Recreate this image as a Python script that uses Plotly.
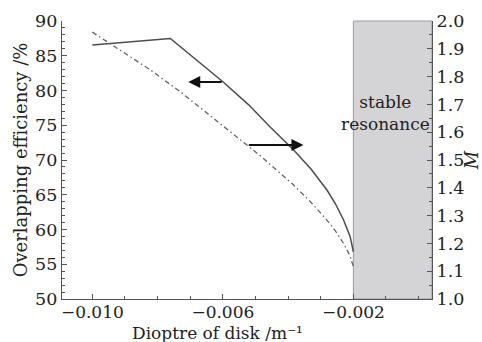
import plotly.graph_objects as go

# Solid curve: overlapping efficiency (%) vs dioptre (left axis)
eff_x = [-0.0100, -0.00761, -0.00599, -0.00520, -0.00455, -0.00383, -0.00330, -0.00281,
         -0.00255, -0.00230, -0.00210, -0.00200]
eff_y = [86.55, 87.48, 81.22, 77.9, 74.75, 71.44, 68.7, 65.68, 63.7, 61.37, 59.0, 56.8]

# Dash-dot curve: M vs dioptre (right axis)
m_x = [-0.0100, -0.00822, -0.00730, -0.00525, -0.00485, -0.00383, -0.00330, -0.00281,
       -0.00255, -0.00230, -0.00210, -0.00200]
m_y = [1.960, 1.824, 1.745, 1.554, 1.515, 1.410, 1.348, 1.284, 1.245, 1.200, 1.155, 1.116]

x_range = [-0.01093, 0.00041]
y_range = [50, 90]
y2_range = [1.0, 2.0]
stable_x0 = -0.002

FONT = "DejaVu Serif"
AX = "#555555"

fig = go.Figure()
fig.add_trace(go.Scatter(x=eff_x, y=eff_y, mode="lines",
                         line=dict(color="#4d4d4d", width=1.5),
                         yaxis="y", showlegend=False))
fig.add_trace(go.Scatter(x=m_x, y=m_y, mode="lines",
                         line=dict(color="#666666", width=1.3, dash="5px,3px,1.5px,3px"),
                         yaxis="y2", showlegend=False))

fig.add_shape(type="rect", xref="x", yref="paper", x0=stable_x0, x1=x_range[1], y0=0, y1=1,
              fillcolor="#d4d4d6", line=dict(color="#9a9a9a", width=1), layer="below")

fig.add_annotation(x=(stable_x0 + x_range[1]) / 2 - 0.00022, y=0.752, xref="x", yref="paper",
                   text="stable<br>resonance", showarrow=False,
                   font=dict(family=FONT, size=17, color="#222222"), align="center")

# x axis title (placed as annotation to sit below tick labels like the reference)
fig.add_annotation(x=0.419, y=-0.121, xref="paper", yref="paper", xanchor="center",
                   yanchor="middle", text="Dioptre of disk /m⁻¹", showarrow=False,
                   font=dict(family=FONT, size=17, color="#222222"))

# arrows
fig.add_annotation(x=-0.00706, y=81.22, ax=-0.00599, ay=81.22, xref="x", yref="y",
                   axref="x", ayref="y", text="", showarrow=True,
                   arrowhead=2, arrowsize=1.2, arrowwidth=2, arrowcolor="#111111")
fig.add_annotation(x=-0.00353, y=72.16, ax=-0.00525, ay=72.16, xref="x", yref="y",
                   axref="x", ayref="y", text="", showarrow=True,
                   arrowhead=2, arrowsize=1.2, arrowwidth=2, arrowcolor="#111111")

tickfont = dict(family=FONT, size=17.5, color="#222222")
titlefont = dict(family=FONT, size=18, color="#222222")

fig.update_layout(
    width=482, height=342,
    margin=dict(l=62, r=50, t=21, b=43),
    plot_bgcolor="white", paper_bgcolor="white",
    xaxis=dict(range=x_range, tick0=-0.010, dtick=0.004, tickformat=".3f", automargin=False,
               ticks="inside", ticklen=5, tickcolor=AX, showline=True, linecolor=AX,
               linewidth=1.2, showgrid=False, zeroline=False, ticklabelstandoff=-3,
               tickfont=dict(family=FONT, size=17, color="#222222"),
               minor=dict(tick0=-0.010, dtick=0.001, ticks="inside", ticklen=3,
                          tickcolor=AX, showgrid=False)),
    yaxis=dict(range=y_range, tick0=50, dtick=5, ticks="inside", ticklen=5, tickcolor=AX,
               automargin=False,
               showline=True, linecolor=AX, linewidth=1.2, showgrid=False, zeroline=False,
               tickfont=tickfont,
               title=dict(text="Overlapping efficiency /%", font=titlefont, standoff=2),
               minor=dict(dtick=1, ticks="inside", ticklen=3, tickcolor=AX, showgrid=False)),
    yaxis2=dict(range=y2_range, overlaying="y", side="right", tick0=1.0, dtick=0.1,
                automargin=False,
                tickformat=".1f", ticks="inside", ticklen=5, tickcolor=AX, showline=True,
                linecolor=AX, linewidth=1.2, showgrid=False, zeroline=False, tickfont=tickfont,
                title=dict(text="<i>M</i>", font=titlefont, standoff=2),
                minor=dict(dtick=0.05, ticks="inside", ticklen=3, tickcolor=AX, showgrid=False)),
)

fig.write_html("out.html")
